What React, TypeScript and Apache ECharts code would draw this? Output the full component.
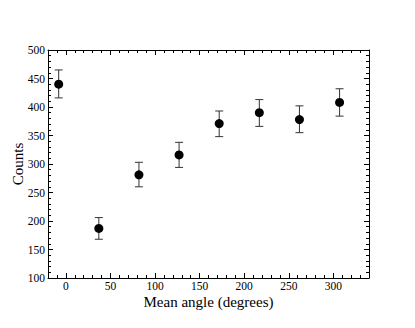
import React, { useEffect, useRef } from "react";
import * as echarts from "echarts";

const angles = [-8, 37, 82, 127, 172, 217, 262, 307];
const counts = [440, 187, 281, 316, 371, 390, 378, 408];
const errLow = [416, 168, 260, 294, 348, 366, 355, 384];
const errHigh = [465, 206, 303, 338, 393, 413, 402, 432];
const xMajorTicks = [0, 50, 100, 150, 200, 250, 300];
const xMinorTicks = [-10, 10, 20, 30, 40, 60, 70, 80, 90, 110, 120, 130, 140, 160, 170, 180, 190, 210, 220, 230, 240, 260, 270, 280, 290, 310, 320, 330];

const FONT = "'Liberation Serif', 'DejaVu Serif', serif";

export default function App() {
  const ref = useRef<HTMLDivElement>(null);
  useEffect(() => {
    const chart = echarts.init(ref.current!, null, { renderer: "svg" });
    const line = { show: true, lineStyle: { color: "#000", width: 1 } };
    const xBase = { type: "value", min: -20, max: 340, splitLine: { show: false } };
    const yBase = { type: "value", min: 100, max: 500, interval: 50, splitLine: { show: false } };
    chart.setOption({
      animation: false,
      grid: { left: 48, right: 46, top: 50, bottom: 50, containLabel: false, outerBoundsMode: "none" },
      xAxis: [
        {
          ...xBase,
          position: "bottom",
          axisLine: { ...line, onZero: false },
          axisTick: { show: true, inside: true, length: 5, customValues: xMajorTicks, lineStyle: { color: "#000" } },
          axisLabel: {
            show: true,
            customValues: xMajorTicks,
            hideOverlap: false,
            showMinLabel: true,
            margin: 2,
            fontFamily: FONT,
            fontSize: 11.5,
            color: "#000",
          },
          name: "Mean angle (degrees)",
          nameLocation: "middle",
          nameMoveOverlap: false,
          nameGap: 16,
          nameTextStyle: { fontFamily: FONT, fontSize: 15, color: "#000" },
        },
        {
          ...xBase,
          position: "bottom",
          axisLine: { show: false, onZero: false },
          axisTick: { show: true, inside: true, length: 3, customValues: xMinorTicks, lineStyle: { color: "#000" } },
          axisLabel: { show: false },
        },
        {
          ...xBase,
          position: "top",
          axisLine: { ...line, onZero: false },
          axisTick: { show: true, inside: true, length: 5, customValues: xMajorTicks, lineStyle: { color: "#000" } },
          axisLabel: { show: false },
        },
        {
          ...xBase,
          position: "top",
          axisLine: { show: false, onZero: false },
          axisTick: { show: true, inside: true, length: 3, customValues: xMinorTicks, lineStyle: { color: "#000" } },
          axisLabel: { show: false },
        },
      ],
      yAxis: [
        {
          ...yBase,
          position: "left",
          axisLine: { ...line, onZero: false },
          axisTick: { show: true, inside: true, length: 5, lineStyle: { color: "#000" } },
          minorTick: { show: true, splitNumber: 5, length: 3, lineStyle: { color: "#000" } },
          axisLabel: { show: true, margin: 3, fontFamily: FONT, fontSize: 11.5, color: "#000" },
          name: "Counts",
          nameLocation: "middle",
          nameMoveOverlap: false,
          nameGap: 23,
          nameTextStyle: { fontFamily: FONT, fontSize: 15, color: "#000" },
        },
        {
          ...yBase,
          position: "right",
          axisLine: { ...line, onZero: false },
          axisTick: { show: true, inside: true, length: 5, lineStyle: { color: "#000" } },
          minorTick: { show: true, splitNumber: 5, length: 3, lineStyle: { color: "#000" } },
          axisLabel: { show: false },
        },
      ],
      series: [
        {
          type: "custom",
          xAxisIndex: 0,
          yAxisIndex: 0,
          data: angles.map((a, i) => [a, errLow[i], errHigh[i]]),
          renderItem: (params: any, api: any) => {
            const x = api.value(0);
            const lo = api.coord([x, api.value(1)]);
            const hi = api.coord([x, api.value(2)]);
            const cap = 4;
            const style = { stroke: "#333", lineWidth: 1 };
            return {
              type: "group",
              children: [
                { type: "line", shape: { x1: lo[0], y1: lo[1], x2: hi[0], y2: hi[1] }, style },
                { type: "line", shape: { x1: lo[0] - cap, y1: lo[1], x2: lo[0] + cap, y2: lo[1] }, style },
                { type: "line", shape: { x1: hi[0] - cap, y1: hi[1], x2: hi[0] + cap, y2: hi[1] }, style },
              ],
            };
          },
          z: 2,
        },
        {
          type: "scatter",
          xAxisIndex: 0,
          yAxisIndex: 0,
          data: angles.map((a, i) => [a, counts[i]]),
          symbol: "circle",
          symbolSize: 9,
          itemStyle: { color: "#000", opacity: 1 },
          z: 3,
        },
      ],
    });
    return () => chart.dispose();
  }, []);
  return (
    <div
      ref={ref}
      style={{ position: "fixed", left: 0, top: 0, width: 415, height: 328, background: "#fff" }}
    />
  );
}
